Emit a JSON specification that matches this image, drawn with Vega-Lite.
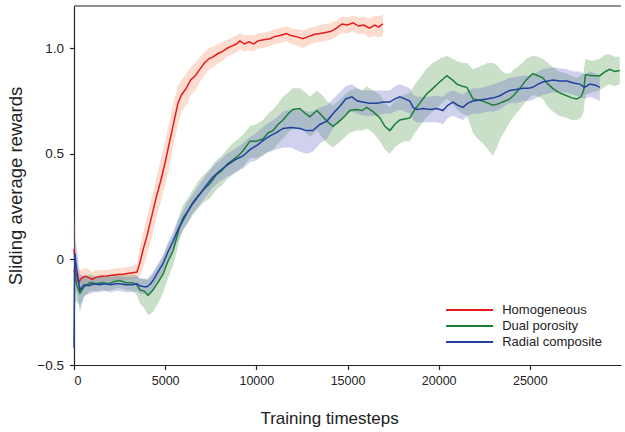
{
  "$schema": "https://vega.github.io/schema/vega-lite/v6.json",
  "width": 547,
  "height": 359,
  "autosize": {"type": "none"},
  "padding": {"left": 74, "top": 6, "right": 4, "bottom": 67},
  "config": {
    "font": "Liberation Sans",
    "view": {"stroke": null},
    "axis": {"grid": false, "domainColor": "#222", "domainWidth": 1.2, "tickColor": "#222", "tickWidth": 1.2, "tickSize": 4.5, "labelColor": "#222", "titleColor": "#222", "titleFontWeight": "normal"}
  },
  "datasets": {
    "curves": [
    {"model":"Homogeneous","step":0,"reward":0.05,"lo":-0.2,"hi":0.3},
    {"model":"Homogeneous","step":100,"reward":-0.06,"lo":-0.15,"hi":0.05},
    {"model":"Homogeneous","step":250,"reward":-0.11,"lo":-0.16,"hi":-0.05},
    {"model":"Homogeneous","step":400,"reward":-0.09,"lo":-0.13,"hi":-0.05},
    {"model":"Homogeneous","step":600,"reward":-0.08,"lo":-0.12,"hi":-0.04},
    {"model":"Homogeneous","step":800,"reward":-0.085,"lo":-0.125,"hi":-0.045},
    {"model":"Homogeneous","step":1000,"reward":-0.095,"lo":-0.13,"hi":-0.06},
    {"model":"Homogeneous","step":1200,"reward":-0.085,"lo":-0.12,"hi":-0.05},
    {"model":"Homogeneous","step":1500,"reward":-0.08,"lo":-0.11,"hi":-0.05},
    {"model":"Homogeneous","step":1800,"reward":-0.078,"lo":-0.105,"hi":-0.05},
    {"model":"Homogeneous","step":2100,"reward":-0.075,"lo":-0.1,"hi":-0.045},
    {"model":"Homogeneous","step":2400,"reward":-0.072,"lo":-0.1,"hi":-0.042},
    {"model":"Homogeneous","step":2700,"reward":-0.07,"lo":-0.1,"hi":-0.04},
    {"model":"Homogeneous","step":3000,"reward":-0.066,"lo":-0.095,"hi":-0.035},
    {"model":"Homogeneous","step":3300,"reward":-0.062,"lo":-0.09,"hi":-0.03},
    {"model":"Homogeneous","step":3450,"reward":-0.06,"lo":-0.09,"hi":-0.02},
    {"model":"Homogeneous","step":3600,"reward":-0.02,"lo":-0.08,"hi":0.05},
    {"model":"Homogeneous","step":3800,"reward":0.05,"lo":-0.04,"hi":0.13},
    {"model":"Homogeneous","step":4000,"reward":0.11,"lo":0.02,"hi":0.2},
    {"model":"Homogeneous","step":4250,"reward":0.2,"lo":0.1,"hi":0.29},
    {"model":"Homogeneous","step":4500,"reward":0.29,"lo":0.19,"hi":0.38},
    {"model":"Homogeneous","step":4750,"reward":0.37,"lo":0.27,"hi":0.47},
    {"model":"Homogeneous","step":5000,"reward":0.46,"lo":0.35,"hi":0.56},
    {"model":"Homogeneous","step":5250,"reward":0.56,"lo":0.45,"hi":0.66},
    {"model":"Homogeneous","step":5500,"reward":0.66,"lo":0.56,"hi":0.76},
    {"model":"Homogeneous","step":5700,"reward":0.74,"lo":0.64,"hi":0.82},
    {"model":"Homogeneous","step":5900,"reward":0.78,"lo":0.7,"hi":0.85},
    {"model":"Homogeneous","step":6150,"reward":0.81,"lo":0.73,"hi":0.88},
    {"model":"Homogeneous","step":6400,"reward":0.85,"lo":0.78,"hi":0.91},
    {"model":"Homogeneous","step":6650,"reward":0.87,"lo":0.8,"hi":0.93},
    {"model":"Homogeneous","step":6900,"reward":0.9,"lo":0.84,"hi":0.96},
    {"model":"Homogeneous","step":7150,"reward":0.93,"lo":0.87,"hi":0.98},
    {"model":"Homogeneous","step":7400,"reward":0.95,"lo":0.9,"hi":1.0},
    {"model":"Homogeneous","step":7650,"reward":0.96,"lo":0.91,"hi":1.01},
    {"model":"Homogeneous","step":7900,"reward":0.975,"lo":0.93,"hi":1.02},
    {"model":"Homogeneous","step":8150,"reward":0.985,"lo":0.94,"hi":1.03},
    {"model":"Homogeneous","step":8400,"reward":1.0,"lo":0.96,"hi":1.04},
    {"model":"Homogeneous","step":8650,"reward":1.01,"lo":0.97,"hi":1.05},
    {"model":"Homogeneous","step":8900,"reward":1.02,"lo":0.98,"hi":1.06},
    {"model":"Homogeneous","step":9100,"reward":1.035,"lo":0.995,"hi":1.07},
    {"model":"Homogeneous","step":9350,"reward":1.02,"lo":0.985,"hi":1.06},
    {"model":"Homogeneous","step":9600,"reward":1.03,"lo":0.99,"hi":1.065},
    {"model":"Homogeneous","step":9850,"reward":1.02,"lo":0.985,"hi":1.06},
    {"model":"Homogeneous","step":10100,"reward":1.035,"lo":1.0,"hi":1.07},
    {"model":"Homogeneous","step":10400,"reward":1.04,"lo":1.0,"hi":1.075},
    {"model":"Homogeneous","step":10750,"reward":1.045,"lo":1.01,"hi":1.08},
    {"model":"Homogeneous","step":11000,"reward":1.055,"lo":1.02,"hi":1.09},
    {"model":"Homogeneous","step":11300,"reward":1.06,"lo":1.025,"hi":1.095},
    {"model":"Homogeneous","step":11650,"reward":1.07,"lo":1.035,"hi":1.105},
    {"model":"Homogeneous","step":11900,"reward":1.06,"lo":1.02,"hi":1.095},
    {"model":"Homogeneous","step":12200,"reward":1.055,"lo":1.015,"hi":1.09},
    {"model":"Homogeneous","step":12550,"reward":1.045,"lo":1.0,"hi":1.085},
    {"model":"Homogeneous","step":12850,"reward":1.055,"lo":1.015,"hi":1.095},
    {"model":"Homogeneous","step":13150,"reward":1.065,"lo":1.025,"hi":1.1},
    {"model":"Homogeneous","step":13500,"reward":1.07,"lo":1.03,"hi":1.11},
    {"model":"Homogeneous","step":13800,"reward":1.075,"lo":1.035,"hi":1.115},
    {"model":"Homogeneous","step":14100,"reward":1.08,"lo":1.04,"hi":1.12},
    {"model":"Homogeneous","step":14400,"reward":1.095,"lo":1.055,"hi":1.13},
    {"model":"Homogeneous","step":14700,"reward":1.115,"lo":1.075,"hi":1.15},
    {"model":"Homogeneous","step":15000,"reward":1.11,"lo":1.07,"hi":1.145},
    {"model":"Homogeneous","step":15300,"reward":1.12,"lo":1.08,"hi":1.155},
    {"model":"Homogeneous","step":15600,"reward":1.105,"lo":1.065,"hi":1.145},
    {"model":"Homogeneous","step":15900,"reward":1.11,"lo":1.07,"hi":1.15},
    {"model":"Homogeneous","step":16200,"reward":1.095,"lo":1.05,"hi":1.14},
    {"model":"Homogeneous","step":16500,"reward":1.11,"lo":1.06,"hi":1.155},
    {"model":"Homogeneous","step":16700,"reward":1.1,"lo":1.05,"hi":1.15},
    {"model":"Homogeneous","step":16940,"reward":1.115,"lo":1.06,"hi":1.16},

    {"model":"Dual porosity","step":0,"reward":-0.05,"lo":-0.2,"hi":0.1},
    {"model":"Dual porosity","step":150,"reward":-0.12,"lo":-0.2,"hi":-0.04},
    {"model":"Dual porosity","step":330,"reward":-0.16,"lo":-0.22,"hi":-0.1},
    {"model":"Dual porosity","step":550,"reward":-0.13,"lo":-0.18,"hi":-0.08},
    {"model":"Dual porosity","step":880,"reward":-0.11,"lo":-0.15,"hi":-0.07},
    {"model":"Dual porosity","step":1200,"reward":-0.115,"lo":-0.15,"hi":-0.08},
    {"model":"Dual porosity","step":1590,"reward":-0.11,"lo":-0.145,"hi":-0.075},
    {"model":"Dual porosity","step":1900,"reward":-0.115,"lo":-0.15,"hi":-0.08},
    {"model":"Dual porosity","step":2200,"reward":-0.105,"lo":-0.14,"hi":-0.07},
    {"model":"Dual porosity","step":2520,"reward":-0.1,"lo":-0.135,"hi":-0.065},
    {"model":"Dual porosity","step":2850,"reward":-0.11,"lo":-0.145,"hi":-0.075},
    {"model":"Dual porosity","step":3230,"reward":-0.11,"lo":-0.15,"hi":-0.07},
    {"model":"Dual porosity","step":3450,"reward":-0.12,"lo":-0.17,"hi":-0.08},
    {"model":"Dual porosity","step":3620,"reward":-0.145,"lo":-0.21,"hi":-0.09},
    {"model":"Dual porosity","step":3850,"reward":-0.15,"lo":-0.23,"hi":-0.09},
    {"model":"Dual porosity","step":4060,"reward":-0.17,"lo":-0.265,"hi":-0.1},
    {"model":"Dual porosity","step":4330,"reward":-0.145,"lo":-0.25,"hi":-0.07},
    {"model":"Dual porosity","step":4600,"reward":-0.11,"lo":-0.21,"hi":-0.03},
    {"model":"Dual porosity","step":4880,"reward":-0.07,"lo":-0.16,"hi":0.01},
    {"model":"Dual porosity","step":5150,"reward":-0.01,"lo":-0.09,"hi":0.07},
    {"model":"Dual porosity","step":5430,"reward":0.04,"lo":-0.03,"hi":0.11},
    {"model":"Dual porosity","step":5650,"reward":0.11,"lo":0.04,"hi":0.17},
    {"model":"Dual porosity","step":5810,"reward":0.16,"lo":0.1,"hi":0.22},
    {"model":"Dual porosity","step":6000,"reward":0.2,"lo":0.14,"hi":0.26},
    {"model":"Dual porosity","step":6250,"reward":0.23,"lo":0.17,"hi":0.29},
    {"model":"Dual porosity","step":6520,"reward":0.27,"lo":0.21,"hi":0.33},
    {"model":"Dual porosity","step":6800,"reward":0.3,"lo":0.24,"hi":0.37},
    {"model":"Dual porosity","step":7100,"reward":0.33,"lo":0.27,"hi":0.4},
    {"model":"Dual porosity","step":7460,"reward":0.36,"lo":0.29,"hi":0.43},
    {"model":"Dual porosity","step":7800,"reward":0.4,"lo":0.33,"hi":0.47},
    {"model":"Dual porosity","step":8100,"reward":0.42,"lo":0.35,"hi":0.49},
    {"model":"Dual porosity","step":8390,"reward":0.45,"lo":0.38,"hi":0.52},
    {"model":"Dual porosity","step":8700,"reward":0.47,"lo":0.4,"hi":0.55},
    {"model":"Dual porosity","step":9000,"reward":0.49,"lo":0.42,"hi":0.57},
    {"model":"Dual porosity","step":9270,"reward":0.515,"lo":0.44,"hi":0.59},
    {"model":"Dual porosity","step":9650,"reward":0.56,"lo":0.48,"hi":0.63},
    {"model":"Dual porosity","step":10000,"reward":0.56,"lo":0.48,"hi":0.64},
    {"model":"Dual porosity","step":10360,"reward":0.57,"lo":0.49,"hi":0.66},
    {"model":"Dual porosity","step":10650,"reward":0.6,"lo":0.51,"hi":0.69},
    {"model":"Dual porosity","step":10910,"reward":0.61,"lo":0.52,"hi":0.71},
    {"model":"Dual porosity","step":11200,"reward":0.64,"lo":0.55,"hi":0.74},
    {"model":"Dual porosity","step":11460,"reward":0.66,"lo":0.57,"hi":0.77},
    {"model":"Dual porosity","step":11750,"reward":0.69,"lo":0.6,"hi":0.79},
    {"model":"Dual porosity","step":12000,"reward":0.71,"lo":0.62,"hi":0.81},
    {"model":"Dual porosity","step":12390,"reward":0.715,"lo":0.62,"hi":0.81},
    {"model":"Dual porosity","step":12700,"reward":0.69,"lo":0.6,"hi":0.79},
    {"model":"Dual porosity","step":12940,"reward":0.675,"lo":0.58,"hi":0.77},
    {"model":"Dual porosity","step":13320,"reward":0.705,"lo":0.61,"hi":0.8},
    {"model":"Dual porosity","step":13600,"reward":0.68,"lo":0.58,"hi":0.78},
    {"model":"Dual porosity","step":13870,"reward":0.655,"lo":0.55,"hi":0.75},
    {"model":"Dual porosity","step":14200,"reward":0.63,"lo":0.53,"hi":0.73},
    {"model":"Dual porosity","step":14500,"reward":0.65,"lo":0.55,"hi":0.75},
    {"model":"Dual porosity","step":14750,"reward":0.67,"lo":0.57,"hi":0.77},
    {"model":"Dual porosity","step":15130,"reward":0.705,"lo":0.6,"hi":0.8},
    {"model":"Dual porosity","step":15500,"reward":0.71,"lo":0.61,"hi":0.81},
    {"model":"Dual porosity","step":15800,"reward":0.705,"lo":0.61,"hi":0.8},
    {"model":"Dual porosity","step":16060,"reward":0.72,"lo":0.62,"hi":0.82},
    {"model":"Dual porosity","step":16400,"reward":0.7,"lo":0.6,"hi":0.8},
    {"model":"Dual porosity","step":16780,"reward":0.67,"lo":0.56,"hi":0.78},
    {"model":"Dual porosity","step":17050,"reward":0.63,"lo":0.52,"hi":0.74},
    {"model":"Dual porosity","step":17320,"reward":0.61,"lo":0.5,"hi":0.72},
    {"model":"Dual porosity","step":17600,"reward":0.64,"lo":0.53,"hi":0.75},
    {"model":"Dual porosity","step":17870,"reward":0.66,"lo":0.55,"hi":0.77},
    {"model":"Dual porosity","step":18150,"reward":0.665,"lo":0.56,"hi":0.78},
    {"model":"Dual porosity","step":18420,"reward":0.67,"lo":0.56,"hi":0.79},
    {"model":"Dual porosity","step":18700,"reward":0.71,"lo":0.6,"hi":0.83},
    {"model":"Dual porosity","step":18970,"reward":0.74,"lo":0.63,"hi":0.86},
    {"model":"Dual porosity","step":19300,"reward":0.78,"lo":0.67,"hi":0.9},
    {"model":"Dual porosity","step":19680,"reward":0.81,"lo":0.7,"hi":0.93},
    {"model":"Dual porosity","step":20050,"reward":0.84,"lo":0.73,"hi":0.95},
    {"model":"Dual porosity","step":20450,"reward":0.87,"lo":0.76,"hi":0.965},
    {"model":"Dual porosity","step":20750,"reward":0.85,"lo":0.74,"hi":0.95},
    {"model":"Dual porosity","step":21000,"reward":0.83,"lo":0.71,"hi":0.94},
    {"model":"Dual porosity","step":21300,"reward":0.82,"lo":0.69,"hi":0.93},
    {"model":"Dual porosity","step":21550,"reward":0.815,"lo":0.68,"hi":0.93},
    {"model":"Dual porosity","step":21880,"reward":0.76,"lo":0.6,"hi":0.9},
    {"model":"Dual porosity","step":22150,"reward":0.755,"lo":0.57,"hi":0.91},
    {"model":"Dual porosity","step":22420,"reward":0.75,"lo":0.55,"hi":0.92},
    {"model":"Dual porosity","step":22700,"reward":0.74,"lo":0.52,"hi":0.93},
    {"model":"Dual porosity","step":22970,"reward":0.73,"lo":0.49,"hi":0.93},
    {"model":"Dual porosity","step":23200,"reward":0.735,"lo":0.53,"hi":0.92},
    {"model":"Dual porosity","step":23360,"reward":0.74,"lo":0.57,"hi":0.9},
    {"model":"Dual porosity","step":23650,"reward":0.75,"lo":0.61,"hi":0.88},
    {"model":"Dual porosity","step":23900,"reward":0.76,"lo":0.65,"hi":0.88},
    {"model":"Dual porosity","step":24150,"reward":0.78,"lo":0.68,"hi":0.9},
    {"model":"Dual porosity","step":24450,"reward":0.81,"lo":0.71,"hi":0.92},
    {"model":"Dual porosity","step":24800,"reward":0.85,"lo":0.75,"hi":0.95},
    {"model":"Dual porosity","step":25160,"reward":0.88,"lo":0.78,"hi":0.965},
    {"model":"Dual porosity","step":25450,"reward":0.87,"lo":0.77,"hi":0.96},
    {"model":"Dual porosity","step":25710,"reward":0.86,"lo":0.76,"hi":0.95},
    {"model":"Dual porosity","step":26000,"reward":0.83,"lo":0.72,"hi":0.93},
    {"model":"Dual porosity","step":26260,"reward":0.81,"lo":0.7,"hi":0.91},
    {"model":"Dual porosity","step":26600,"reward":0.79,"lo":0.68,"hi":0.89},
    {"model":"Dual porosity","step":27030,"reward":0.775,"lo":0.67,"hi":0.88},
    {"model":"Dual porosity","step":27300,"reward":0.765,"lo":0.66,"hi":0.87},
    {"model":"Dual porosity","step":27580,"reward":0.76,"lo":0.66,"hi":0.86},
    {"model":"Dual porosity","step":27800,"reward":0.77,"lo":0.67,"hi":0.87},
    {"model":"Dual porosity","step":27950,"reward":0.8,"lo":0.7,"hi":0.89},
    {"model":"Dual porosity","step":28050,"reward":0.875,"lo":0.78,"hi":0.95},
    {"model":"Dual porosity","step":28400,"reward":0.87,"lo":0.79,"hi":0.94},
    {"model":"Dual porosity","step":28840,"reward":0.87,"lo":0.8,"hi":0.95},
    {"model":"Dual porosity","step":29150,"reward":0.89,"lo":0.82,"hi":0.97},
    {"model":"Dual porosity","step":29390,"reward":0.9,"lo":0.83,"hi":0.97},
    {"model":"Dual porosity","step":29650,"reward":0.89,"lo":0.82,"hi":0.96},
    {"model":"Dual porosity","step":29930,"reward":0.895,"lo":0.83,"hi":0.96},

    {"model":"Radial composite","step":0,"reward":-0.42,"lo":-0.48,"hi":-0.3},
    {"model":"Radial composite","step":40,"reward":0.03,"lo":-0.05,"hi":0.1},
    {"model":"Radial composite","step":150,"reward":-0.05,"lo":-0.15,"hi":0.05},
    {"model":"Radial composite","step":330,"reward":-0.145,"lo":-0.25,"hi":-0.07},
    {"model":"Radial composite","step":550,"reward":-0.12,"lo":-0.17,"hi":-0.08},
    {"model":"Radial composite","step":800,"reward":-0.125,"lo":-0.165,"hi":-0.085},
    {"model":"Radial composite","step":1100,"reward":-0.115,"lo":-0.155,"hi":-0.08},
    {"model":"Radial composite","step":1400,"reward":-0.12,"lo":-0.155,"hi":-0.085},
    {"model":"Radial composite","step":1700,"reward":-0.115,"lo":-0.15,"hi":-0.08},
    {"model":"Radial composite","step":2000,"reward":-0.12,"lo":-0.155,"hi":-0.085},
    {"model":"Radial composite","step":2300,"reward":-0.115,"lo":-0.15,"hi":-0.08},
    {"model":"Radial composite","step":2520,"reward":-0.115,"lo":-0.15,"hi":-0.08},
    {"model":"Radial composite","step":2850,"reward":-0.12,"lo":-0.155,"hi":-0.085},
    {"model":"Radial composite","step":3230,"reward":-0.12,"lo":-0.155,"hi":-0.085},
    {"model":"Radial composite","step":3450,"reward":-0.115,"lo":-0.15,"hi":-0.08},
    {"model":"Radial composite","step":3620,"reward":-0.125,"lo":-0.16,"hi":-0.09},
    {"model":"Radial composite","step":3850,"reward":-0.13,"lo":-0.165,"hi":-0.095},
    {"model":"Radial composite","step":4000,"reward":-0.13,"lo":-0.165,"hi":-0.09},
    {"model":"Radial composite","step":4200,"reward":-0.115,"lo":-0.155,"hi":-0.075},
    {"model":"Radial composite","step":4330,"reward":-0.1,"lo":-0.14,"hi":-0.06},
    {"model":"Radial composite","step":4600,"reward":-0.06,"lo":-0.1,"hi":-0.02},
    {"model":"Radial composite","step":4880,"reward":-0.02,"lo":-0.06,"hi":0.02},
    {"model":"Radial composite","step":5150,"reward":0.035,"lo":-0.01,"hi":0.08},
    {"model":"Radial composite","step":5430,"reward":0.085,"lo":0.04,"hi":0.13},
    {"model":"Radial composite","step":5700,"reward":0.14,"lo":0.09,"hi":0.19},
    {"model":"Radial composite","step":5980,"reward":0.185,"lo":0.14,"hi":0.23},
    {"model":"Radial composite","step":6200,"reward":0.22,"lo":0.17,"hi":0.27},
    {"model":"Radial composite","step":6520,"reward":0.265,"lo":0.22,"hi":0.31},
    {"model":"Radial composite","step":6910,"reward":0.31,"lo":0.26,"hi":0.36},
    {"model":"Radial composite","step":7250,"reward":0.35,"lo":0.3,"hi":0.4},
    {"model":"Radial composite","step":7620,"reward":0.39,"lo":0.34,"hi":0.44},
    {"model":"Radial composite","step":8000,"reward":0.42,"lo":0.37,"hi":0.47},
    {"model":"Radial composite","step":8390,"reward":0.445,"lo":0.39,"hi":0.5},
    {"model":"Radial composite","step":8800,"reward":0.47,"lo":0.41,"hi":0.52},
    {"model":"Radial composite","step":9270,"reward":0.49,"lo":0.43,"hi":0.55},
    {"model":"Radial composite","step":9650,"reward":0.52,"lo":0.46,"hi":0.58},
    {"model":"Radial composite","step":10030,"reward":0.54,"lo":0.47,"hi":0.6},
    {"model":"Radial composite","step":10400,"reward":0.565,"lo":0.5,"hi":0.63},
    {"model":"Radial composite","step":10750,"reward":0.585,"lo":0.51,"hi":0.65},
    {"model":"Radial composite","step":11100,"reward":0.6,"lo":0.52,"hi":0.67},
    {"model":"Radial composite","step":11460,"reward":0.62,"lo":0.53,"hi":0.7},
    {"model":"Radial composite","step":11900,"reward":0.625,"lo":0.53,"hi":0.71},
    {"model":"Radial composite","step":12390,"reward":0.62,"lo":0.51,"hi":0.71},
    {"model":"Radial composite","step":12750,"reward":0.61,"lo":0.5,"hi":0.7},
    {"model":"Radial composite","step":13100,"reward":0.61,"lo":0.51,"hi":0.7},
    {"model":"Radial composite","step":13500,"reward":0.64,"lo":0.55,"hi":0.72},
    {"model":"Radial composite","step":13870,"reward":0.655,"lo":0.57,"hi":0.73},
    {"model":"Radial composite","step":14200,"reward":0.69,"lo":0.62,"hi":0.76},
    {"model":"Radial composite","step":14580,"reward":0.725,"lo":0.66,"hi":0.79},
    {"model":"Radial composite","step":14900,"reward":0.76,"lo":0.69,"hi":0.82},
    {"model":"Radial composite","step":15240,"reward":0.77,"lo":0.7,"hi":0.83},
    {"model":"Radial composite","step":15550,"reward":0.75,"lo":0.69,"hi":0.81},
    {"model":"Radial composite","step":15840,"reward":0.745,"lo":0.68,"hi":0.8},
    {"model":"Radial composite","step":16200,"reward":0.74,"lo":0.68,"hi":0.8},
    {"model":"Radial composite","step":16610,"reward":0.74,"lo":0.68,"hi":0.8},
    {"model":"Radial composite","step":17000,"reward":0.745,"lo":0.69,"hi":0.8},
    {"model":"Radial composite","step":17320,"reward":0.745,"lo":0.69,"hi":0.8},
    {"model":"Radial composite","step":17600,"reward":0.76,"lo":0.7,"hi":0.82},
    {"model":"Radial composite","step":17870,"reward":0.77,"lo":0.71,"hi":0.83},
    {"model":"Radial composite","step":18150,"reward":0.76,"lo":0.7,"hi":0.82},
    {"model":"Radial composite","step":18420,"reward":0.75,"lo":0.69,"hi":0.81},
    {"model":"Radial composite","step":18600,"reward":0.72,"lo":0.66,"hi":0.78},
    {"model":"Radial composite","step":18800,"reward":0.71,"lo":0.65,"hi":0.77},
    {"model":"Radial composite","step":19150,"reward":0.715,"lo":0.65,"hi":0.77},
    {"model":"Radial composite","step":19520,"reward":0.71,"lo":0.65,"hi":0.77},
    {"model":"Radial composite","step":19900,"reward":0.715,"lo":0.65,"hi":0.775},
    {"model":"Radial composite","step":20230,"reward":0.705,"lo":0.64,"hi":0.77},
    {"model":"Radial composite","step":20500,"reward":0.73,"lo":0.67,"hi":0.79},
    {"model":"Radial composite","step":20780,"reward":0.745,"lo":0.68,"hi":0.8},
    {"model":"Radial composite","step":21050,"reward":0.73,"lo":0.67,"hi":0.79},
    {"model":"Radial composite","step":21330,"reward":0.72,"lo":0.66,"hi":0.78},
    {"model":"Radial composite","step":21600,"reward":0.74,"lo":0.68,"hi":0.8},
    {"model":"Radial composite","step":21880,"reward":0.75,"lo":0.69,"hi":0.81},
    {"model":"Radial composite","step":22250,"reward":0.755,"lo":0.69,"hi":0.81},
    {"model":"Radial composite","step":22640,"reward":0.76,"lo":0.7,"hi":0.82},
    {"model":"Radial composite","step":23000,"reward":0.765,"lo":0.7,"hi":0.83},
    {"model":"Radial composite","step":23360,"reward":0.775,"lo":0.71,"hi":0.84},
    {"model":"Radial composite","step":23650,"reward":0.79,"lo":0.73,"hi":0.85},
    {"model":"Radial composite","step":23900,"reward":0.8,"lo":0.74,"hi":0.86},
    {"model":"Radial composite","step":24250,"reward":0.805,"lo":0.74,"hi":0.865},
    {"model":"Radial composite","step":24620,"reward":0.81,"lo":0.75,"hi":0.87},
    {"model":"Radial composite","step":24900,"reward":0.81,"lo":0.75,"hi":0.87},
    {"model":"Radial composite","step":25160,"reward":0.815,"lo":0.755,"hi":0.875},
    {"model":"Radial composite","step":25450,"reward":0.83,"lo":0.77,"hi":0.89},
    {"model":"Radial composite","step":25710,"reward":0.84,"lo":0.78,"hi":0.9},
    {"model":"Radial composite","step":26000,"reward":0.845,"lo":0.785,"hi":0.905},
    {"model":"Radial composite","step":26260,"reward":0.85,"lo":0.79,"hi":0.91},
    {"model":"Radial composite","step":26650,"reward":0.845,"lo":0.79,"hi":0.905},
    {"model":"Radial composite","step":27030,"reward":0.845,"lo":0.79,"hi":0.9},
    {"model":"Radial composite","step":27400,"reward":0.835,"lo":0.78,"hi":0.89},
    {"model":"Radial composite","step":27740,"reward":0.83,"lo":0.77,"hi":0.89},
    {"model":"Radial composite","step":28000,"reward":0.815,"lo":0.76,"hi":0.875},
    {"model":"Radial composite","step":28290,"reward":0.83,"lo":0.77,"hi":0.89},
    {"model":"Radial composite","step":28600,"reward":0.825,"lo":0.76,"hi":0.88},
    {"model":"Radial composite","step":28840,"reward":0.815,"lo":0.75,"hi":0.87}
    ],
    "frame": [{"edge": 1.2}]
  },
  "layer": [
    {
      "data": {"name": "curves"},
      "mark": {"type": "area", "orient": "vertical", "fillOpacity": 0.32},
      "encoding": {
        "x": {
          "field": "step", "type": "quantitative",
          "scale": {"domain": [0, 30000], "nice": false},
          "axis": {
            "values": [0, 5000, 10000, 15000, 20000, 25000], "format": "d",
            "labelFontSize": 12.5, "labelPadding": 5,
            "title": "Training timesteps", "titleFontSize": 17,
            "titleX": 255, "titleY": 58, "titleBaseline": "alphabetic"
          }
        },
        "y": {
          "field": "lo", "type": "quantitative",
          "scale": {"domain": [-0.5, 1.2], "nice": false, "zero": false},
          "axis": {
            "values": [-0.5, 0, 0.5, 1.0],
            "labelExpr": "datum.value == 0 ? '0' : format(datum.value, '.1f')",
            "labelFontSize": 13.5, "labelPadding": 6,
            "title": "Sliding average rewards", "titleFontSize": 18.5,
            "titleX": -53, "titleBaseline": "alphabetic"
          }
        },
        "y2": {"field": "hi"},
        "color": {
          "field": "model", "type": "nominal", "legend": null,
          "scale": {"domain": ["Homogeneous", "Dual porosity", "Radial composite"], "range": ["#f5926a", "#5a9a50", "#6a70c8"]}
        }
      }
    },
    {
      "data": {"name": "curves"},
      "mark": {"type": "line", "strokeWidth": 1.5},
      "encoding": {
        "x": {"field": "step", "type": "quantitative"},
        "y": {"field": "reward", "type": "quantitative"},
        "color": {
          "field": "model", "type": "nominal",
          "scale": {"domain": ["Homogeneous", "Dual porosity", "Radial composite"], "range": ["#e8191c", "#1a7f37", "#2041a0"]},
          "legend": {
            "title": null, "orient": "none", "legendX": 388.6, "legendY": 297,
            "symbolType": "M-4,0H4", "symbolSize": 138, "symbolStrokeWidth": 1.8,
            "labelFontSize": 13, "labelColor": "#222", "labelOffset": 25.6, "rowPadding": 2
          }
        }
      }
    },
    {
      "data": {"name": "frame"},
      "mark": {"type": "rule", "color": "#222", "strokeWidth": 1.2},
      "encoding": {"y": {"field": "edge", "type": "quantitative"}}
    }
  ],
  "resolve": {"scale": {"color": "independent"}}
}
